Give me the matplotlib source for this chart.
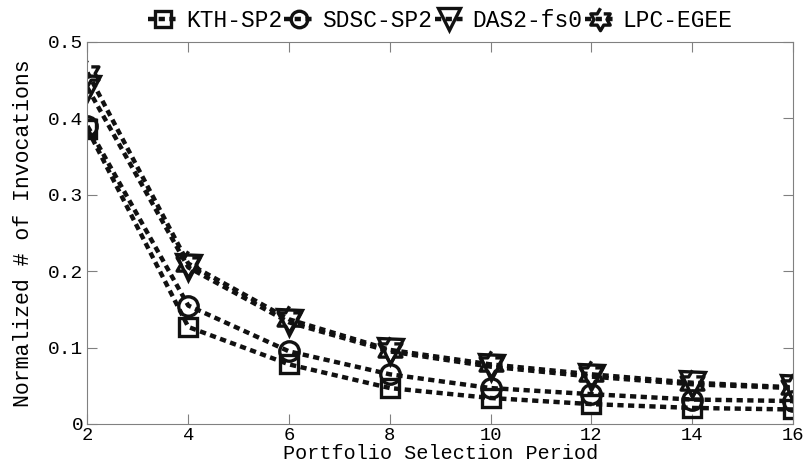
import numpy as np
import matplotlib.pyplot as plt

plt.rcParams['font.family'] = ['Liberation Mono', 'DejaVu Sans Mono']

periods = [2, 4, 6, 8, 10, 12, 14, 16]
kth = [0.386, 0.127, 0.078, 0.047, 0.034, 0.026, 0.021, 0.019]
sdsc = [0.390, 0.155, 0.095, 0.065, 0.047, 0.039, 0.032, 0.030]
das2 = [0.440, 0.205, 0.133, 0.095, 0.075, 0.062, 0.052, 0.047]
lpc = [0.460, 0.210, 0.137, 0.097, 0.078, 0.065, 0.054, 0.048]
names = ['KTH-SP2', 'SDSC-SP2', 'DAS2-fs0', 'LPC-EGEE']

# hexagram outline (star of David) as a custom marker
ang = np.pi / 2 + np.arange(12) * np.pi / 6
rad = np.where(np.arange(12) % 2 == 0, 1.0, 1.0 / np.sqrt(3))
hexagram = list(zip(rad * np.cos(ang), rad * np.sin(ang)))

fig = plt.figure(figsize=(8.07, 4.69), dpi=100)
ax = fig.add_axes([0.1084, 0.096, 0.8743, 0.8145])

series = [kth, sdsc, das2, lpc]
markers = ['s', 'o', 'v', hexagram]
sizes = [13, 14, 18, 19]
for vals, m, ms, lab in zip(series, markers, sizes, names):
    ax.plot(periods, vals, linestyle=(0, (1.4, 1.0)), color='#111111',
            linewidth=3.2, marker=m, markersize=ms, markerfacecolor='none',
            markeredgecolor='#111111', markeredgewidth=2.4, label=lab)

ax.set_xlim(2, 16)
ax.set_ylim(0, 0.5)
ax.set_xticks(periods)
ax.set_yticks([0, 0.1, 0.2, 0.3, 0.4, 0.5])
ax.set_yticklabels(['0', '0.1', '0.2', '0.3', '0.4', '0.5'])
ax.tick_params(direction='in', top=True, right=True, length=7, color='#808080',
               labelsize=14, pad=3)
ax.tick_params(axis='x', labelsize=13.5, pad=2)
for sp in ax.spines.values():
    sp.set_color('#808080')
ax.set_xlabel('Portfolio Selection Period', fontsize=14.5, labelpad=0)
ax.set_ylabel('Normalized # of Invocations', fontsize=15.5)
ax.yaxis.set_label_coords(-0.076, 0.5)

leg = ax.legend(loc='center', bbox_to_anchor=(0.5, 1.055), ncol=4,
                frameon=False, fontsize=16.5, handlelength=1.3,
                handletextpad=0.35, columnspacing=0.1, borderaxespad=0,
                markerscale=0.85)

plt.savefig('out.png', dpi=100)
